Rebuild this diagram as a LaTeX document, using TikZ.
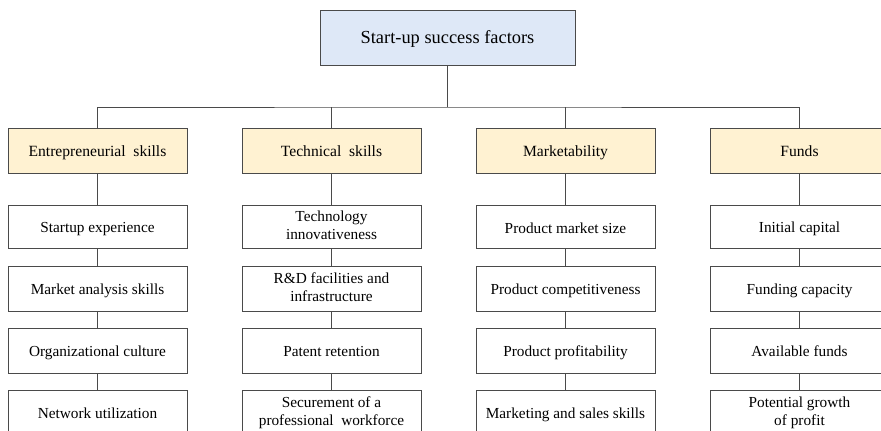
\documentclass[tikz,border=0pt]{standalone}
\usepackage{fontspec}
\setmainfont{Liberation Serif}
\definecolor{topfill}{HTML}{DEE8F7}
\definecolor{catfill}{HTML}{FFF2D2}
\definecolor{edge}{HTML}{4A4A4A}
\newcommand{\lowstrut}{\rule[-3pt]{0pt}{18pt}}
\begin{document}
\begin{tikzpicture}[x=1pt,y=-1pt,
  box/.style={draw=edge,line width=0.9pt,rectangle,inner sep=0pt,align=center,minimum width=179pt,
    execute at begin node=\lowstrut, execute at end node=\lowstrut},
  topbox/.style={box,fill=topfill,minimum width=255pt,minimum height=55pt,font=\fontsize{18.4}{21}\selectfont},
  catbox/.style={box,fill=catfill,minimum height=45pt,font=\fontsize{15.6}{18}\selectfont},
  subbox/.style={box,fill=white,minimum height=45pt,font=\fontsize{15.3}{18}\selectfont},
  link/.style={draw=edge,line width=0.9pt}]
\useasboundingbox (0,0) rectangle (881,431);
\node[topbox] (top) at (447.5,37.5) {Start-up success factors};
\coordinate (bus) at (447.5,107);
% categories
\node[catbox] (c1) at (97.5,150.5) {Entrepreneurial\ \ skills};
\node[catbox] (c2) at (331.5,150.5) {Technical\ \ skills};
\node[catbox] (c3) at (565.5,150.5) {Marketability};
\node[catbox] (c4) at (799.5,150.5) {Funds};
% column 1
\node[subbox,minimum height=42.5pt] (a1) at (97.5,227) {Startup experience};
\node[subbox] (a2) at (97.5,288.5) {Market analysis skills};
\node[subbox] (a3) at (97.5,350.5) {Organizational culture};
\node[subbox] (a4) at (97.5,412.5) {Network utilization};
% column 2
\node[subbox,minimum height=42.5pt] (b1) at (331.5,227) {Technology\\innovativeness};
\node[subbox] (b2) at (331.5,288.5) {R\&D facilities and\\infrastructure};
\node[subbox] (b3) at (331.5,350.5) {Patent retention};
\node[subbox] (b4) at (331.5,412.5) {Securement of a\\professional\ \ workforce};
% column 3
\node[subbox,minimum height=42.5pt] (m1) at (565.5,227) {Product market size};
\node[subbox] (m2) at (565.5,288.5) {Product competitiveness};
\node[subbox] (m3) at (565.5,350.5) {Product profitability};
\node[subbox] (m4) at (565.5,412.5) {Marketing and sales skills};
% column 4
\node[subbox,minimum height=42.5pt] (f1) at (799.5,227) {Initial capital};
\node[subbox] (f2) at (799.5,288.5) {Funding capacity};
\node[subbox] (f3) at (799.5,350.5) {Available funds};
\node[subbox] (f4) at (799.5,412.5) {Potential growth\\of profit};
% connectors
\draw[link] (top.south) -- (bus);
\draw[link] (c1.north) |- (bus) -| (c4.north);
\draw[link] (c2.north) -- (c2.north |- bus);
\draw[link] (c3.north) -- (c3.north |- bus);
\foreach \c/\s in {c1/a, c2/b, c3/m, c4/f}{
  \draw[link] (\c.south) -- (\s1.north);
  \draw[link] (\s1.south) -- (\s2.north);
  \draw[link] (\s2.south) -- (\s3.north);
  \draw[link] (\s3.south) -- (\s4.north);
}
\end{tikzpicture}
\end{document}
